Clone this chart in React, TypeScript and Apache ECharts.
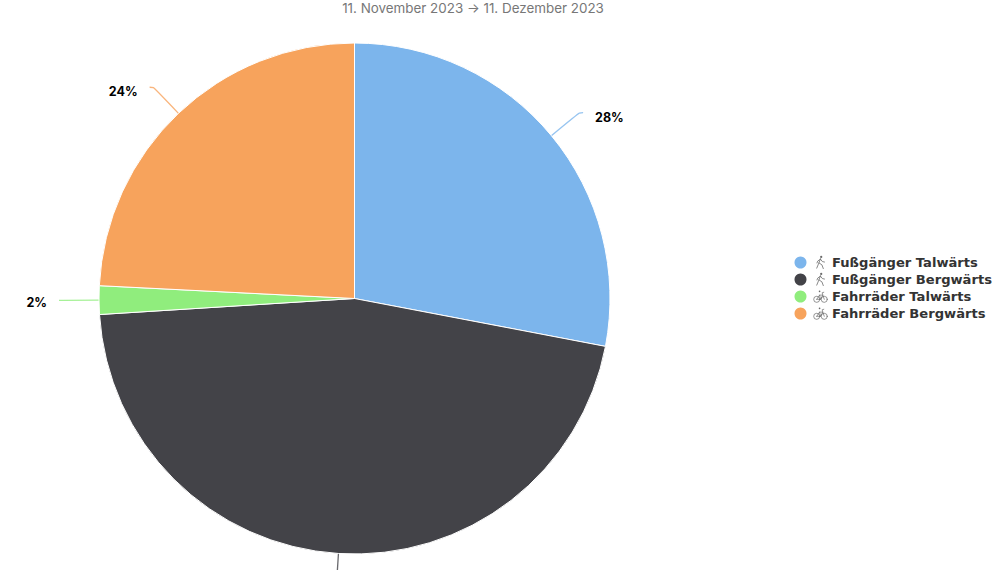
import React, { useEffect, useRef } from "react";
import * as echarts from "echarts";

const titleText = "11. November 2023 → 11. Dezember 2023";
const names = ["Fußgänger Talwärts", "Fußgänger Bergwärts", "Fahrräder Talwärts", "Fahrräder Bergwärts"];
const values = [28.0, 46.0, 1.8, 24.2];
const colors = ["#7cb5ec", "#434348", "#90ed7d", "#f7a35c"];
const iconKinds = ["walk", "walk", "bike", "bike"];

const svgUri = (s: string) => "data:image/svg+xml;charset=utf-8," + encodeURIComponent(s);
const walkIcon = svgUri(
  `<svg xmlns="http://www.w3.org/2000/svg" width="32" height="32" viewBox="0 0 32 32"><g fill="none" stroke="#6b6b6b" stroke-width="1.7" stroke-linecap="round" stroke-linejoin="round"><circle cx="17.5" cy="4" r="2.4" fill="#6b6b6b" stroke="none"/><path d="M16 8 L12.5 17 L8 28"/><path d="M13 17 L19 21 L22 29"/><path d="M15.5 9 L10 13 L8.5 17"/><path d="M16 9 L20 14 L24.5 15"/></g></svg>`
);
const bikeIcon = svgUri(
  `<svg xmlns="http://www.w3.org/2000/svg" width="32" height="32" viewBox="0 0 32 32"><g fill="none" stroke="#6b6b6b" stroke-width="1.5" stroke-linecap="round" stroke-linejoin="round"><circle cx="8" cy="22" r="6.5"/><circle cx="24" cy="22" r="6.5"/><path d="M8 22 L14 13 L21 13 L24 22"/><path d="M14 13 L16 22 L8 22"/><path d="M16 22 L21 13 L19.5 8 L23 7"/><circle cx="14" cy="5" r="1.8" fill="#6b6b6b" stroke="none"/></g></svg>`
);

export default function App() {
  const ref = useRef<HTMLDivElement>(null);
  useEffect(() => {
    document.body.style.margin = "0";
    const chart = echarts.init(ref.current!, undefined, { renderer: "svg" });
    chart.setOption({
      animation: false,
      backgroundColor: "#ffffff",
      title: {
        text: titleText,
        left: 468,
        textAlign: "center",
        top: -4,
        textStyle: { fontFamily: "Inter", fontWeight: 400, fontSize: 13.4, color: "#777777" },
      },
      legend: {
        orient: "vertical",
        left: 787.5,
        top: 249.5,
        itemGap: 1,
        itemWidth: 14,
        itemHeight: 14,
        icon: "circle",
        data: names,
        formatter: (name: string) => `{${iconKinds[names.indexOf(name)]}|}{t|${name}}`,
        textStyle: {
          rich: {
            walk: { width: 16, height: 15, backgroundColor: { image: walkIcon } },
            bike: { width: 16, height: 15, backgroundColor: { image: bikeIcon } },
            t: {
              fontFamily: "DejaVu Sans",
              fontWeight: 700,
              fontSize: 13.1,
              color: "#333333",
              padding: [0, 0, 0, 3.5],
              lineHeight: 17,
            },
          },
        },
      },
      series: [
        {
          type: "pie",
          center: [354.5, 298.5],
          radius: [0, 255.5],
          startAngle: 90,
          clockwise: true,
          avoidLabelOverlap: false,
          itemStyle: { borderColor: "#ffffff", borderWidth: 1 },
          label: {
            formatter: "{d}%",
            fontFamily: "Inter",
            fontWeight: 700,
            fontSize: 12.5,
            color: "#000000",
            distanceToLabelLine: 12,
          },
          labelLine: { show: true, length: 36, length2: 4, smooth: true, lineStyle: { width: 1.3, opacity: 0.8 } },
          labelLayout: (p: any) => ({ dy: [5, 0, 2.5, 4.5][p.dataIndex] }),
          percentPrecision: 0,
          emphasis: { disabled: true },
          data: names.map((name, i) => ({
            name,
            value: values[i],
            itemStyle: { color: colors[i] },
            ...(i === 1 ? { label: { formatter: " " } } : {}),
          })),
        },
      ],
    });
    return () => chart.dispose();
  }, []);
  return <div ref={ref} style={{ width: 1000, height: 570, overflow: "hidden" }} />;
}
